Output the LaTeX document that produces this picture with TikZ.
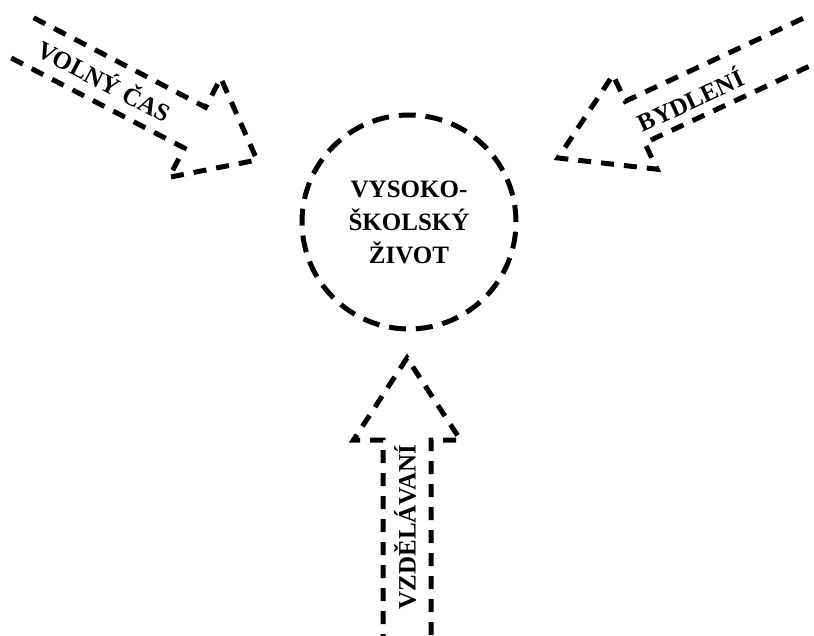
\documentclass[tikz,border=0pt]{standalone}
\usepackage{fontspec}
\setmainfont{Liberation Serif}
\newcommand\blockarrow[7]{%
  \begin{scope}[shift={(#1,#2)}, rotate=#3]
    \draw[arrowline] (-#7,#6) -- (-#4,#6) -- (-#4,#5) -- (0,0) -- (-#4,-#5) -- (-#4,-#6) -- (-#7,-#6);
  \end{scope}}
\begin{document}
\begin{tikzpicture}[x=1pt,y=-1pt,
  arrowline/.style={line width=5pt, dash pattern=on 13pt off 10pt},
  lab/.style={font=\fontsize{25}{30}\selectfont\bfseries, inner sep=0pt}]
\useasboundingbox (0,0) rectangle (814,636);
\clip (0,0) rectangle (814,636);
\node[circle, draw, line width=5pt, dash pattern=on 17pt off 9.9pt,
  minimum size=214pt, inner sep=0pt, align=center,
  font=\fontsize{25}{33}\selectfont\bfseries] (hub) at (409,222) {VYSOKO-\\ŠKOLSKÝ\\ŽIVOT};
% left arrow
\blockarrow{257}{160}{-27.5}{70}{56}{23}{265}
\node[lab, rotate=-27.5] (volno) at (105,80) {VOLNÝ ČAS};
% right arrow
\blockarrow{558}{158}{205}{85}{52}{23}{281}
\node[lab, rotate=25] (bydleni) at (690,99) {BYDLENÍ};
% bottom arrow
\blockarrow{407}{358}{90}{82}{53.5}{24}{300}
\node[lab, rotate=90] (vzdelavani) at (405,527) {VZDĚLÁVANÍ};
\end{tikzpicture}
\end{document}
